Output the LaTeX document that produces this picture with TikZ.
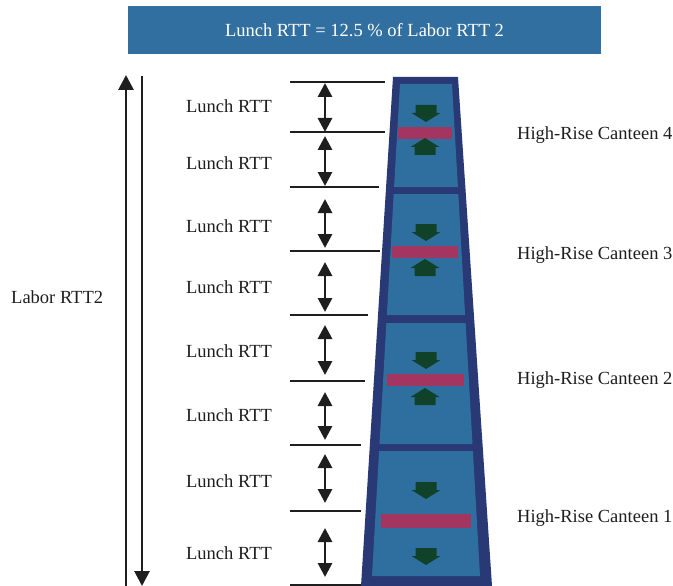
\documentclass[tikz,border=0pt]{standalone}
\usepackage{fontspec}
\setmainfont{Liberation Serif}
\usetikzlibrary{arrows.meta}

\definecolor{titleblue}{RGB}{49,111,160}
\definecolor{panelblue}{RGB}{47,111,159}
\definecolor{towernavy}{RGB}{41,57,117}
\definecolor{slab}{RGB}{163,54,97}
\definecolor{flowgreen}{RGB}{15,66,40}
\definecolor{ink}{RGB}{30,30,30}

\begin{document}
\begin{tikzpicture}[x=1pt,y=-1pt,
  lbl/.style={font=\fontsize{18.5}{20}\selectfont, inner sep=0pt, text=ink},
  tick/.style={draw=ink, line width=1.7pt},
  span/.style={draw=ink, line width=2.9pt,
    {Triangle[width=14pt,length=14pt]}-{Triangle[width=14pt,length=14pt]}},
  bigarrow/.style={draw=ink, line width=2.8pt, -{Triangle[width=15pt,length=15pt]}},
  panel/.style={fill=panelblue},
  slabbar/.style={fill=slab},
  flowdown/.pic={\fill[flowgreen] (-10.5,0) -- (10.5,0) -- (10.5,8) -- (14.5,8)
      -- (0,17) -- (-14.5,8) -- (-10.5,8) -- cycle;},
  flowup/.pic={\fill[flowgreen] (0,0) -- (14.5,9) -- (10.5,9) -- (10.5,17)
      -- (-10.5,17) -- (-10.5,9) -- (-14.5,9) -- cycle;}
]
\useasboundingbox (0,0) rectangle (673,586);

% title banner
\node[fill=titleblue, minimum width=473pt, minimum height=48pt, inner sep=0pt,
      text=white, font=\fontsize{18.5}{20}\selectfont] (title) at (364.5,30)
      {Lunch RTT = 12.5 \% of Labor RTT 2};

% tower outline
\fill[towernavy] (393,77) -- (458,77) -- (492,586) -- (361,586) -- cycle;

% canteen floors, top to bottom
\fill[panel] (400,84) -- (452,84) -- (457.9,187) -- (394.1,187) -- cycle;
\fill[panel] (393.7,194) -- (458.3,194) -- (465.1,315) -- (386.9,315) -- cycle;
\fill[panel] (386.4,323) -- (465.6,323) -- (472.5,444) -- (379.5,444) -- cycle;
\fill[panel] (379.1,451) -- (472.9,451) -- (480,576) -- (372,576) -- cycle;

% counters
\fill[slabbar] (398,127) rectangle (452,139);
\fill[slabbar] (392,246) rectangle (458,258);
\fill[slabbar] (387,374) rectangle (464,386);
\fill[slabbar] (381,514) rectangle (471,528);

% flow arrows
\pic at (426,105) {flowdown};
\pic at (425,138) {flowup};
\pic at (426,224) {flowdown};
\pic at (425,259) {flowup};
\pic at (426,352) {flowdown};
\pic at (425,388) {flowup};
\pic at (426,482) {flowdown};
\pic at (426,548) {flowdown};

% level lines
\foreach \i/\y/\r in {1/82/385, 2/132/385, 3/187/379, 4/251/380,
                      5/315/368, 6/381/365, 7/445/361, 8/511/361, 9/585/361} {
  \coordinate (tl\i) at (290,\y);
  \coordinate (tr\i) at (\r,\y);
  \draw[tick] (tl\i) -- (tr\i);
}

% lunch round-trip spans
\foreach \i/\a/\b in {1/83/132, 2/136/186, 3/199/248, 4/262/312,
                      5/325/375, 6/392/440, 7/454/503, 8/528/577} {
  \coordinate (st\i) at (325,\a);
  \coordinate (sb\i) at (325,\b);
  \draw[span] (st\i) -- (sb\i);
}

% lunch labels
\foreach \i/\y in {1/106, 2/163, 3/226, 4/287, 5/351, 6/415, 7/481, 8/553} {
  \node[lbl] (lunch\i) at (229,\y) {Lunch RTT};
}

% canteen labels
\node[lbl, anchor=west] (can4) at (517,135) {High-Rise Canteen 4};
\node[lbl, anchor=west] (can3) at (517,255) {High-Rise Canteen 3};
\node[lbl, anchor=west] (can2) at (517,380) {High-Rise Canteen 2};
\node[lbl, anchor=west] (can1) at (517,518) {High-Rise Canteen 1};

% labor round trip
\coordinate (upfoot) at (126,586);
\coordinate (uphead) at (126,75);
\coordinate (downfoot) at (142,76);
\coordinate (downhead) at (142,586);
\draw[bigarrow] (upfoot) -- (uphead);
\draw[bigarrow] (downfoot) -- (downhead);
\node[lbl, anchor=west] (labor) at (11,297) {Labor RTT2};
\end{tikzpicture}
\end{document}
